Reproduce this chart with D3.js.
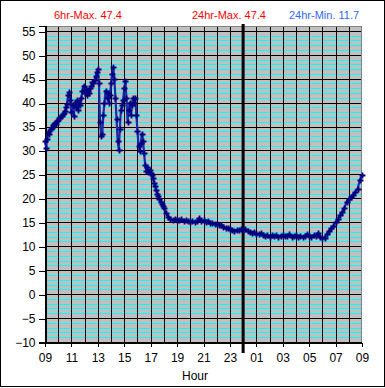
<!DOCTYPE html>
<html>
<head>
<meta charset="utf-8">
<script src="https://cdn.jsdelivr.net/npm/d3@7"></script>
<style>
  html, body { margin: 0; padding: 0; background: #fff; }
  svg { display: block; font-family: "Liberation Sans", Arial, sans-serif; }
</style>
</head>
<body>
<svg id="chart" width="385" height="388"></svg>
<script>
// Temperature samples, 5-minute steps from 09:00 to 17:55
const tempsDay = [
  32.0, 30.5, 32.5, 33.8, 33.5, 34.5, 34.8, 35.3, 35.5, 35.8, 35.6, 36.2,
  36.4, 36.8, 37.0, 37.3, 37.6, 37.8, 38.2, 39.0, 39.8, 41.5, 42.2, 40.5,
  38.0, 39.5, 37.2, 40.0, 39.0, 40.5, 38.5, 40.0, 39.5, 41.0, 42.5, 43.5,
  42.0, 42.8, 41.5, 42.5, 42.0, 43.0, 43.5, 44.2, 44.0, 44.8, 45.5, 46.3,
  47.0, 44.0, 36.0, 33.0, 33.5, 37.5, 40.0, 42.5, 41.0, 42.0, 40.0, 41.5,
  44.0, 46.0, 47.4, 45.0, 41.0, 36.5, 32.0, 30.2, 34.5, 38.5, 39.5, 40.5,
  43.0, 44.6, 41.0, 36.0, 38.5, 40.0, 37.5, 39.5, 41.0, 40.0, 41.0, 37.5,
  34.0, 31.0, 29.8, 31.5, 33.5, 32.0, 29.5, 27.0, 25.8, 26.5, 25.5, 26.0,
  25.2, 24.8, 24.2, 23.3, 22.5, 21.8, 21.0, 20.4, 19.9, 19.3, 18.9, 18.4
];
// Temperature samples, 10-minute steps from 18:00 to 09:00
const tempsNight = [
  18.0, 17.0, 16.2, 15.6, 15.4, 15.7, 15.5, 15.4, 15.6, 15.3, 15.5, 15.2,
  15.1, 15.3, 15.0, 15.2, 15.8, 15.2, 15.4, 15.1, 15.3, 14.9, 14.8, 14.6,
  14.7, 14.4, 14.5, 14.1, 13.9, 13.8, 13.5, 13.3, 13.2, 13.4, 13.3, 13.6,
  13.4, 13.5, 13.2, 13.0, 12.8, 12.9, 12.6, 12.5, 12.7, 12.3, 12.1, 12.4,
  12.0, 12.3, 12.1, 12.3, 12.0, 12.2, 12.4, 12.1, 12.2, 12.5, 12.0, 12.2,
  12.3, 12.0, 12.2, 11.9, 12.1, 12.5, 12.2, 12.0, 12.3, 12.1, 12.8, 11.9,
  11.7, 11.8, 12.6, 13.2, 13.8, 14.2, 15.0, 15.7, 16.5, 17.2, 18.0, 19.3,
  19.9, 20.2, 20.8, 21.4, 22.0, 23.8, 24.8
];
const dayStepHours = 5 / 60;
const nightStepHours = 10 / 60;
const nightStartHour = 9; // hours after 09:00

const xTickHours = [0, 2, 4, 6, 8, 10, 12, 14, 16, 18, 20, 22, 24];
const xTickLabels = ["09","11","13","15","17","19","21","23","01","03","05","07","09"];
const yTickValues = [-10, -5, 0, 5, 10, 15, 20, 25, 30, 35, 40, 45, 50, 55];
const midnightHour = 15;
const headerTexts = ["6hr-Max. 47.4", "24hr-Max. 47.4", "24hr-Min. 11.7"];
const xAxisTitle = "Hour";

// build series
const series = [];
tempsDay.forEach((v, i) => series.push({ h: i * dayStepHours, v }));
tempsNight.forEach((v, i) => series.push({ h: nightStartHour + i * nightStepHours, v }));

const svg = d3.select("#chart");
const W = 385, H = 388;
const L = 45, R = 362, T = 26, B = 342;

const x = d3.scaleLinear().domain([0, 24]).range([L, R]);
const y = d3.scaleLinear().domain([-10, 56]).range([B, T]);

// outer frame
svg.append("rect").attr("x", 0.5).attr("y", 0.5).attr("width", W - 1).attr("height", H - 2)
  .attr("fill", "#fff").attr("stroke", "#000").attr("stroke-width", 1);

// plot background
svg.append("rect").attr("x", L).attr("y", T).attr("width", R - L).attr("height", B - T)
  .attr("fill", "#c0c0c0");

// minor cyan gridlines each unit
const minor = d3.range(-9, 57).filter(v => v % 5 !== 0);
svg.append("g").selectAll("line").data(minor).join("line")
  .attr("x1", L).attr("x2", R)
  .attr("y1", d => Math.round(y(d)) + 0.5).attr("y2", d => Math.round(y(d)) + 0.5)
  .attr("stroke", "#00ffff").attr("stroke-width", 1).attr("shape-rendering", "crispEdges");

// major black horizontal gridlines every 5
svg.append("g").selectAll("line").data(yTickValues).join("line")
  .attr("x1", L).attr("x2", R)
  .attr("y1", d => Math.round(y(d)) + 0.5).attr("y2", d => Math.round(y(d)) + 0.5)
  .attr("stroke", "#000").attr("stroke-width", 1).attr("shape-rendering", "crispEdges");

// hourly vertical gridlines
svg.append("g").selectAll("line").data(d3.range(0, 24)).join("line")
  .attr("x1", d => Math.round(x(d)) + 0.5).attr("x2", d => Math.round(x(d)) + 0.5)
  .attr("y1", T).attr("y2", B)
  .attr("stroke", "#000").attr("stroke-width", 1).attr("shape-rendering", "crispEdges");

// plot border (top/right gray)
svg.append("path")
  .attr("d", `M${L},${T + 0.5}H${R - 0.5}V${B}`)
  .attr("fill", "none").attr("stroke", "#808080").attr("stroke-width", 1)
  .attr("shape-rendering", "crispEdges");

// y axis
const yAxis = d3.axisLeft(y).tickValues(yTickValues).tickSize(7).tickPadding(3);
const gy = svg.append("g").attr("transform", `translate(${L + 0.5},0)`).call(yAxis);
gy.select(".domain").attr("stroke", "#000").attr("shape-rendering", "crispEdges");
gy.selectAll(".tick line").attr("stroke", "#000").attr("shape-rendering", "crispEdges")
  .attr("transform", function(d){ return `translate(0,${Math.round(y(d)) + 0.5 - y(d)})`; });
gy.selectAll(".tick text").attr("font-size", 12).attr("fill", "#000")
  .attr("font-family", "'Liberation Sans', Arial, sans-serif").attr("dy", "0.36em");

// x axis
const xAxis = d3.axisBottom(x).tickValues(xTickHours)
  .tickFormat((d, i) => xTickLabels[i]).tickSize(4).tickPadding(7);
const gx = svg.append("g").attr("transform", `translate(0,${B + 0.5})`).call(xAxis);
gx.select(".domain").attr("stroke", "#000").attr("shape-rendering", "crispEdges");
gx.selectAll(".tick line").attr("stroke", "#000").attr("shape-rendering", "crispEdges");
gx.selectAll(".tick text").attr("font-size", 12).attr("fill", "#000")
  .attr("font-family", "'Liberation Sans', Arial, sans-serif");

// midnight thick line
svg.append("line")
  .attr("x1", x(midnightHour)).attr("x2", x(midnightHour))
  .attr("y1", T - 2).attr("y2", B + 11)
  .attr("stroke", "#000").attr("stroke-width", 3);

// data line
const line = d3.line().x(d => x(d.h)).y(d => y(d.v));
svg.append("path").datum(series).attr("d", line)
  .attr("fill", "none").attr("stroke", "#1a2aa8").attr("stroke-width", 2.2)
  .attr("stroke-linejoin", "round");

// plus markers
svg.append("g").selectAll("path").data(series).join("path")
  .attr("d", d => {
    const cx = Math.round(x(d.h)) + 0.5, cy = Math.round(y(d.v)) + 0.5;
    return `M${cx - 3},${cy}H${cx + 3}M${cx},${cy - 3}V${cy + 3}`;
  })
  .attr("stroke", "#000080").attr("stroke-width", 1.8).attr("fill", "none");

// header texts
const headerX = [54, 192, 289];
const headerColors = ["#ff0000", "#ff0000", "#3366ff"];
svg.append("g").selectAll("text").data(headerTexts).join("text")
  .attr("x", (d, i) => headerX[i]).attr("y", 19)
  .attr("font-size", 11).attr("fill", (d, i) => headerColors[i])
  .text(d => d);

// x axis title
svg.append("text").attr("x", 195).attr("y", 380).attr("text-anchor", "middle")
  .attr("font-size", 12).attr("fill", "#000").text(xAxisTitle);
</script>
</body>
</html>
